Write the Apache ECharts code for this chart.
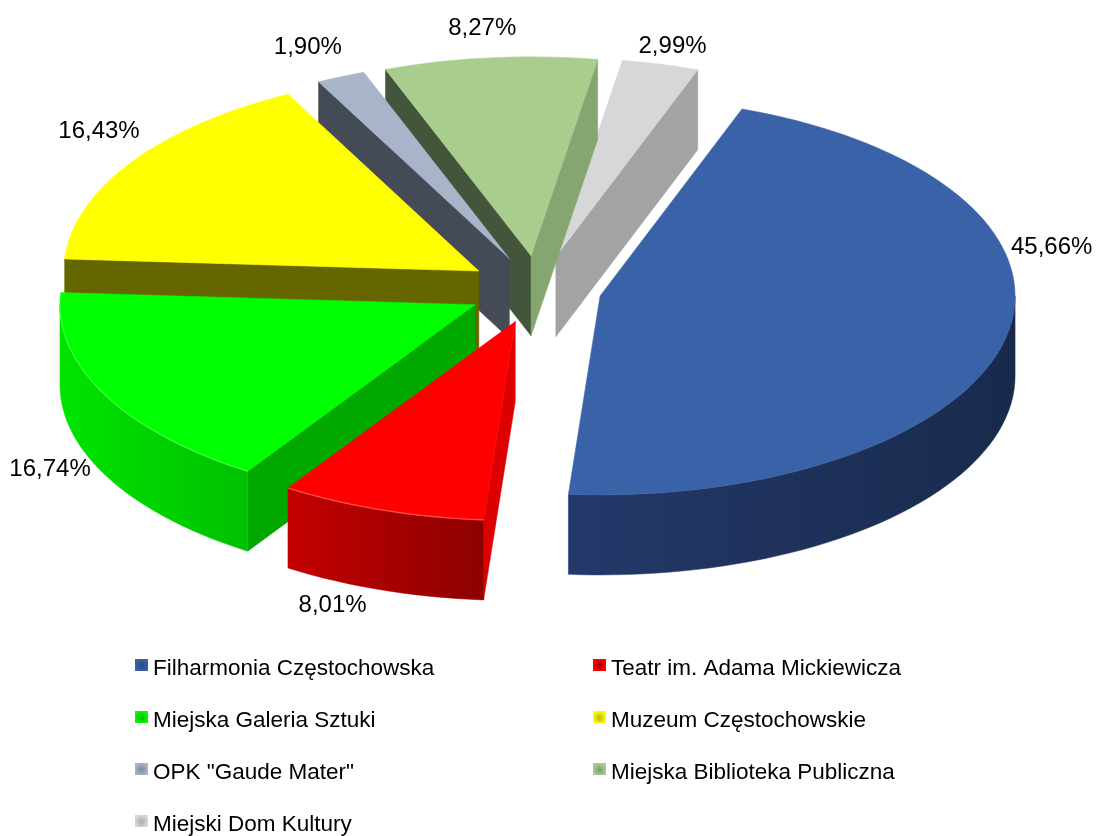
<!DOCTYPE html>
<html><head><meta charset="utf-8">
<style>html,body{margin:0;padding:0;background:#fff}#c{width:1097px;height:836px}</style>
<script src="https://cdn.jsdelivr.net/npm/echarts@6/dist/echarts.min.js"></script>
</head><body><div id="c"></div>
<script>
const categories = ['Filharmonia Częstochowska','Teatr im. Adama Mickiewicza','Miejska Galeria Sztuki','Muzeum Częstochowskie','OPK "Gaude Mater"','Miejska Biblioteka Publiczna','Miejski Dom Kultury'];
const values = [45.66, 8.01, 16.74, 16.43, 1.90, 8.27, 2.99];
const topColors = ['#3a62a9','#ff0000','#00ff00','#ffff00','#a7b4c9','#a9cd8c','#d7d7d7'];
const startFace = ['#1a2d50','#dc0000','#00a800','#666600','#444a56','#43553a','#a3a3a3'];
const endFace = ['#1a2d50','#dc0000','#00a800','#666600','#444a56','#85a571','#a3a3a3'];
const wallLeft = ['#24396a','#c40000','#00e400','#666600','#444a56','#43553a','#a3a3a3'];
const wallRight = ['#182a4c','#8e0000','#00c000','#666600','#444a56','#43553a','#a3a3a3'];
const legendDark = ['#2a4a8a','#a80000','#00b000','#b8b800','#7f8b9e','#7c9c74','#ababab'];
const rimLight = [null,'#ff5050','#40ff40',null,null,null,null];
const explode = [0.153,0.17,0.17,0.17,0.17,0.17,0.17];
const labelShiftX = [46,-49,-54,-32,-33,-8,12];
const labelShiftY = [-91,95.5,75.5,-31,-29.5,-29.5,-17.5];
const drawOrder = [6,5,4,3,2,1,0];
const leftLegend = [0,2,4,6];
const rightLegend = [1,3,5];

const CX=538, CY=289.5, RX=415, RY=199, DEPTH=80, START=20;
const total = values.reduce((a,b)=>a+b,0);
const RAD=Math.PI/180;
const startAngles=[]; let acc=START;
values.forEach(v=>{startAngles.push(acc); acc+=v/total*360;});

function rim(ax,ay,deg,dy){return [ax+Math.sin(deg*RAD)*RX, ay-Math.cos(deg*RAD)*RY+(dy||0)];}
function arc(ax,ay,a,b,dy){const n=Math.max(2,Math.ceil((b-a)/2));const p=[];for(let k=0;k<=n;k++)p.push(rim(ax,ay,a+(b-a)*k/n,dy));return p;}

function renderSlice(idx){
  const s=startAngles[idx], span=values[idx]/total*360, e=s+span, m=s+span/2;
  const k=explode[idx];
  const ax=CX+Math.sin(m*RAD)*RX*k, ay=CY-Math.cos(m*RAD)*RY*k;
  const children=[];
  const poly=(pts,fill)=>children.push({type:'polygon',shape:{points:pts},style:{fill:fill,stroke:fill,lineWidth:0.5}});
  const face=(deg,fill)=>{const r=rim(ax,ay,deg);poly([[ax,ay],r,[r[0],r[1]+DEPTH],[ax,ay+DEPTH]],fill);};
  const norm=a=>((a%360)+360)%360;
  if(norm(s)>180) face(s,startFace[idx]);
  if(norm(e)<180) face(e,endFace[idx]);
  // outer wall, only the part that faces the viewer (90..270 from north)
  const a0=Math.max(s,90), b0=Math.min(e,270);
  if(b0>a0){
    const up=arc(ax,ay,a0,b0), dn=arc(ax,ay,a0,b0,DEPTH).reverse();
    poly(up.concat(dn), new echarts.graphic.LinearGradient(0,0,1,0,[{offset:0,color:wallLeft[idx]},{offset:1,color:wallRight[idx]}]));
  }
  poly([[ax,ay]].concat(arc(ax,ay,s,e)), topColors[idx]);
  if(rimLight[idx]&&b0>a0){
    children.push({type:'polyline',shape:{points:arc(ax,ay,a0,b0)},style:{fill:'none',stroke:rimLight[idx],lineWidth:1.2}});
  }
  const lp=rim(ax,ay,m);
  children.push({type:'text',style:{
    x:lp[0]+labelShiftX[idx],y:lp[1]+labelShiftY[idx],
    text:values[idx].toFixed(2).replace('.',',')+'%',
    font:'24px "Liberation Sans"',fill:'#000',align:'center',verticalAlign:'middle'}});
  return {type:'group',children};
}

const series=drawOrder.map(i=>({
  type:'custom',name:categories[i],coordinateSystem:'none',
  itemStyle:{color:topColors[i]},
  data:[{name:categories[i],value:values[i]}],
  animation:false,silent:true,
  renderItem:()=>renderSlice(i)
}));
const legendItem=i=>({name:categories[i],itemStyle:{color:new echarts.graphic.RadialGradient(0.5,0.35,0.5,[{offset:0,color:legendDark[i]},{offset:1,color:topColors[i]}])}});
const legendCommon={orient:'vertical',itemWidth:13,itemHeight:19,itemGap:29,icon:'path://M0 0H13V12H0ZM0 19H0.01Z',selectedMode:false,
  height:200,textStyle:{fontFamily:'"Liberation Sans"',fontSize:22.5,color:'#000'}};
const chart=echarts.init(document.getElementById('c'),null,{renderer:'canvas'});
chart.setOption({
  backgroundColor:'#fff',animation:false,
  legend:[
    Object.assign({},legendCommon,{data:leftLegend.map(legendItem),left:130,top:652}),
    Object.assign({},legendCommon,{data:rightLegend.map(legendItem),left:588,top:652})
  ],
  series
});
</script></body></html>
